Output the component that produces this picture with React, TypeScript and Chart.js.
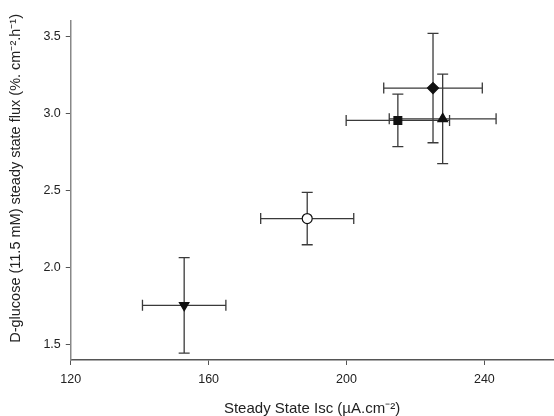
import React, { useEffect, useRef } from "react";
import { Chart, registerables } from "chart.js";

Chart.register(...registerables);

const seriesNames = ["square", "diamond", "triangleUp", "circleOpen", "triangleDown"];
const xValues = [214.9, 225.1, 227.9, 188.6, 152.9];
const yValues = [2.955, 3.165, 2.965, 2.318, 1.755];
const xErrors = [15.0, 14.3, 15.5, 13.5, 12.1];
const yErrors = [0.17, 0.355, 0.29, 0.17, 0.31];
const pointStyles = ["rect", "rectRot", "triangle", "circle", "triangle"];
const rotations = [0, 0, 0, 0, 180];
const fills = ["#111", "#111", "#111", "#fff", "#111"];
const xTicks = [120, 160, 200, 240];
const yTicks = [1.5, 2.0, 2.5, 3.0, 3.5];

const errorBarPlugin = {
  id: "errorBars",
  beforeDatasetsDraw(chart: any) {
    const ctx = chart.ctx;
    const xs = chart.scales.x;
    const ys = chart.scales.y;
    ctx.save();
    ctx.strokeStyle = "#3a3a3a";
    ctx.lineWidth = 1.3;
    const cap = 5.5;
    xValues.forEach((xv, i) => {
      const yv = yValues[i];
      const px = xs.getPixelForValue(xv);
      const py = ys.getPixelForValue(yv);
      const x1 = xs.getPixelForValue(xv - xErrors[i]);
      const x2 = xs.getPixelForValue(xv + xErrors[i]);
      const y1 = ys.getPixelForValue(yv + yErrors[i]);
      const y2 = ys.getPixelForValue(yv - yErrors[i]);
      ctx.beginPath();
      ctx.moveTo(x1, py);
      ctx.lineTo(x2, py);
      ctx.moveTo(x1, py - cap);
      ctx.lineTo(x1, py + cap);
      ctx.moveTo(x2, py - cap);
      ctx.lineTo(x2, py + cap);
      ctx.moveTo(px, y1);
      ctx.lineTo(px, y2);
      ctx.moveTo(px - cap, y1);
      ctx.lineTo(px + cap, y1);
      ctx.moveTo(px - cap, y2);
      ctx.lineTo(px + cap, y2);
      ctx.stroke();
    });
    ctx.restore();
  },
};

export default function App() {
  const ref = useRef<HTMLCanvasElement>(null);
  useEffect(() => {
    document.body.style.margin = "0";
    const font = "'Liberation Sans', Arial, sans-serif";
    const chart = new Chart(ref.current!, {
      type: "scatter",
      data: {
        datasets: seriesNames.map((name, i) => ({
          label: name,
          data: [{ x: xValues[i], y: yValues[i] }],
          pointStyle: pointStyles[i] as any,
          rotation: rotations[i],
          radius: i === 3 ? 5 : 5.5,
          backgroundColor: fills[i],
          borderColor: "#111",
          borderWidth: 1.2,
        })),
      },
      options: {
        animation: false,
        responsive: false,
        layout: { padding: { top: 21, right: 0, left: 7, bottom: 0 } },
        plugins: { legend: { display: false }, tooltip: { enabled: false } },
        scales: {
          x: {
            type: "linear",
            min: 120,
            max: 260,
            afterBuildTicks: (s: any) => {
              s.ticks = xTicks.map((v) => ({ value: v }));
            },
            grid: { drawOnChartArea: false, drawTicks: true, tickLength: 5, color: "#555" },
            border: { display: true, color: "#555", width: 1.5 },
            ticks: { color: "#222", font: { family: font, size: 12.5 }, padding: 7, maxRotation: 0 },
            title: {
              display: true,
              text: "Steady State Isc (µA.cm⁻²)",
              color: "#222",
              font: { family: font, size: 15, lineHeight: 1 },
              padding: { top: 7, bottom: 0 },
            },
          },
          y: {
            type: "linear",
            min: 1.4,
            max: 3.6,
            afterBuildTicks: (s: any) => {
              s.ticks = yTicks.map((v) => ({ value: v }));
            },
            grid: { drawOnChartArea: false, drawTicks: true, tickLength: 5, color: "#555" },
            border: { display: true, color: "#888", width: 1.5 },
            ticks: {
              color: "#222",
              font: { family: font, size: 12.5 },
              padding: 5,
              callback: (v: any) => Number(v).toFixed(1),
            },
            title: {
              display: true,
              text: "      D-glucose (11.5 mM) steady state flux (%. cm⁻².h⁻¹)",
              color: "#222",
              font: { family: font, size: 14.5 },
              padding: { top: 0, bottom: 14 },
            },
          },
        },
      },
      plugins: [errorBarPlugin],
    });
    return () => chart.destroy();
  }, []);
  return (
    <div style={{ width: 554, height: 416, overflow: "hidden" }}>
      <canvas ref={ref} width={560} height={416} />
    </div>
  );
}
